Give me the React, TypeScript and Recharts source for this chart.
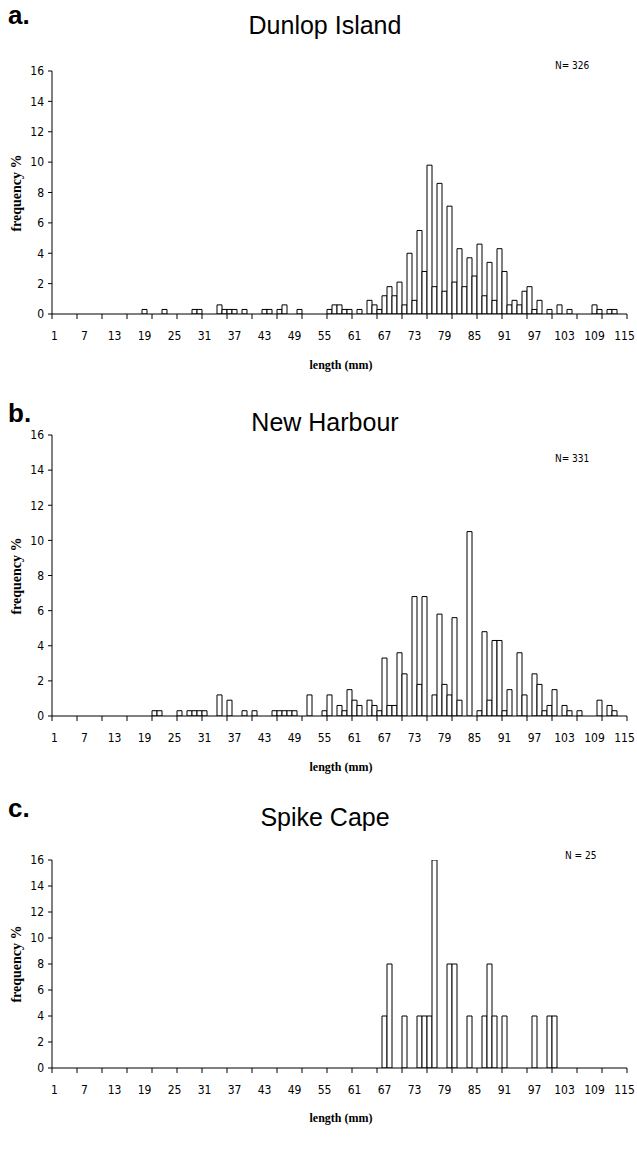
import React from 'react';
import { BarChart, Bar, XAxis, YAxis } from 'recharts';

// ---------- DATA ----------
const yTicks = [0, 2, 4, 6, 8, 10, 12, 14, 16];
const xTickLabels = [1, 7, 13, 19, 25, 31, 37, 43, 49, 55, 61, 67, 73, 79, 85, 91, 97, 103, 109, 115];
const minLength = 1;
const maxLength = 115;

// Dunlop Island (N = 326): lengths with non-zero frequency and their frequency %
const dunlopLengths = [19, 23, 29, 30, 34, 35, 36, 37, 39, 43, 44, 46, 47, 50, 56, 57, 58, 59, 60, 62, 64, 65, 66, 67, 68, 69, 70, 71, 72, 73, 74, 75, 76, 77, 78, 79, 80, 81, 82, 83, 84, 85, 86, 87, 88, 89, 90, 91, 92, 93, 94, 95, 96, 97, 98, 100, 102, 104, 109, 110, 112, 113];
const dunlopFreq = [0.3, 0.3, 0.3, 0.3, 0.6, 0.3, 0.3, 0.3, 0.3, 0.3, 0.3, 0.3, 0.6, 0.3, 0.3, 0.6, 0.6, 0.3, 0.3, 0.3, 0.9, 0.6, 0.3, 1.2, 1.8, 1.2, 2.1, 0.6, 4.0, 0.9, 5.5, 2.8, 9.8, 1.8, 8.6, 1.5, 7.1, 2.1, 4.3, 1.8, 3.7, 2.5, 4.6, 1.2, 3.4, 0.9, 4.3, 2.8, 0.6, 0.9, 0.6, 1.5, 1.8, 0.3, 0.9, 0.3, 0.6, 0.3, 0.6, 0.3, 0.3, 0.3];

// New Harbour (N = 331)
const harbourLengths = [21, 22, 26, 28, 29, 30, 31, 34, 36, 39, 41, 45, 46, 47, 48, 49, 52, 55, 56, 58, 59, 60, 61, 62, 64, 65, 66, 67, 68, 69, 70, 71, 73, 74, 75, 77, 78, 79, 80, 81, 82, 84, 86, 87, 88, 89, 90, 91, 92, 94, 95, 97, 98, 99, 100, 101, 103, 104, 106, 110, 112, 113];
const harbourFreq = [0.3, 0.3, 0.3, 0.3, 0.3, 0.3, 0.3, 1.2, 0.9, 0.3, 0.3, 0.3, 0.3, 0.3, 0.3, 0.3, 1.2, 0.3, 1.2, 0.6, 0.3, 1.5, 0.9, 0.6, 0.9, 0.6, 0.3, 3.3, 0.6, 0.6, 3.6, 2.4, 6.8, 1.8, 6.8, 1.2, 5.8, 1.8, 1.2, 5.6, 0.9, 10.5, 0.3, 4.8, 0.9, 4.3, 4.3, 0.3, 1.5, 3.6, 1.2, 2.4, 1.8, 0.3, 0.6, 1.5, 0.6, 0.3, 0.3, 0.9, 0.6, 0.3];

// Spike Cape (N = 25)
const spikeLengths = [67, 68, 71, 74, 75, 76, 77, 80, 81, 84, 87, 88, 89, 91, 97, 100, 101];
const spikeFreq = [4, 8, 4, 4, 4, 4, 16, 8, 8, 4, 4, 8, 4, 4, 4, 4, 4];

function buildTable(lengths: number[], freq: number[]) {
  const rows: { len: number; v: number }[] = [];
  for (let l = minLength; l <= maxLength; l++) {
    const i = lengths.indexOf(l);
    rows.push({ len: l, v: i >= 0 ? freq[i] : 0 });
  }
  return rows;
}

// ---------- STYLE / LAYOUT ----------
const FONT_NARROW = '"Liberation Sans Narrow", "DejaVu Sans Condensed", "Arial Narrow", sans-serif';
const FONT_SANS = '"Liberation Sans", Arial, Helvetica, sans-serif';
const FONT_SERIF = '"Liberation Serif", "Times New Roman", serif';

const CHART_W = 637;
const MARGIN_LEFT = 12;
const YAXIS_W = 40;
const MARGIN_RIGHT = 10;
const MARGIN_TOP = 10;
const XAXIS_H = 34;
const PLOT_W = CHART_W - MARGIN_LEFT - YAXIS_W - MARGIN_RIGHT;
const HALF_CAT = PLOT_W / (maxLength - minLength + 1) / 2;

const XTick = (props: any) => {
  const { x, y, payload } = props;
  const v = Number(payload.value);
  return (
    <g>
      {v % 5 === 0 && <line x1={x + HALF_CAT} x2={x + HALF_CAT} y1={y} y2={y + 5} stroke="#000" />}
      {v === minLength && <line x1={x - HALF_CAT} x2={x - HALF_CAT} y1={y} y2={y + 5} stroke="#000" />}
      {xTickLabels.includes(v) && (
        <text x={x} y={y + 26} textAnchor="middle" fontSize={12} fontFamily={FONT_NARROW} fill="#000">
          {v}
        </text>
      )}
    </g>
  );
};

type PanelCfg = {
  letter: string;
  title: string;
  nLabel: string;
  letterTop: number;
  titleTop: number;
  nLeft: number;
  nTop: number;
  chartTop: number;
  plotH: number;
  xTitleTop: number;
  data: { len: number; v: number }[];
};

const panels: PanelCfg[] = [
  { letter: 'a.', title: 'Dunlop Island', nLabel: 'N= 326', letterTop: 0, titleTop: 11, nLeft: 555, nTop: 60, chartTop: 61, plotH: 243, xTitleTop: 357, data: buildTable(dunlopLengths, dunlopFreq) },
  { letter: 'b.', title: 'New Harbour', nLabel: 'N= 331', letterTop: 398, titleTop: 408, nLeft: 555, nTop: 453, chartTop: 425, plotH: 281, xTitleTop: 759, data: buildTable(harbourLengths, harbourFreq) },
  { letter: 'c.', title: 'Spike Cape', nLabel: 'N = 25', letterTop: 793, titleTop: 803, nLeft: 565, nTop: 850, chartTop: 850, plotH: 208, xTitleTop: 1110, data: buildTable(spikeLengths, spikeFreq) },
];

function Panel({ cfg }: { cfg: PanelCfg }) {
  const chartH = MARGIN_TOP + cfg.plotH + XAXIS_H;
  const plotTop = cfg.chartTop + MARGIN_TOP;
  const yCenter = plotTop + cfg.plotH / 2;
  return (
    <>
      <div style={{ position: 'absolute', left: 8, top: cfg.letterTop, fontFamily: FONT_SANS, fontWeight: 'bold', fontSize: 26, lineHeight: '30px' }}>{cfg.letter}</div>
      <div style={{ position: 'absolute', left: 0, width: 650, top: cfg.titleTop, textAlign: 'center', fontFamily: FONT_SANS, fontSize: 25, lineHeight: '28px' }}>{cfg.title}</div>
      <div style={{ position: 'absolute', left: cfg.nLeft, top: cfg.nTop, fontFamily: FONT_NARROW, fontSize: 10, lineHeight: '12px', whiteSpace: 'pre' }}>{cfg.nLabel}</div>
      <div style={{ position: 'absolute', left: 17 - 60, top: yCenter - 9, width: 120, textAlign: 'center', transform: 'rotate(-90deg)', fontFamily: FONT_SERIF, fontWeight: 'bold', fontSize: 14, lineHeight: '18px' }}>frequency %</div>
      <div style={{ position: 'absolute', left: 341 - 60, width: 120, top: cfg.xTitleTop, textAlign: 'center', fontFamily: FONT_SERIF, fontWeight: 'bold', fontSize: 12, lineHeight: '16px' }}>length (mm)</div>
      <div style={{ position: 'absolute', left: 0, top: cfg.chartTop }}>
        <BarChart width={CHART_W} height={chartH} data={cfg.data} margin={{ top: MARGIN_TOP, right: MARGIN_RIGHT, bottom: 0, left: MARGIN_LEFT }} barCategoryGap={0} barGap={0}>
          <XAxis dataKey="len" interval={0} tick={(p: any) => <XTick {...p} />} tickSize={0} tickMargin={0} tickLine={false} axisLine={{ stroke: '#000' }} height={XAXIS_H} />
          <YAxis domain={[0, 16]} ticks={yTicks} width={YAXIS_W} tickSize={4} tickMargin={4} tickLine={{ stroke: '#000' }} axisLine={{ stroke: '#000' }} tick={{ fill: '#000', fontSize: 12, fontFamily: FONT_NARROW }} allowDataOverflow />
          <Bar dataKey="v" fill="#fff" stroke="#000" strokeWidth={1} isAnimationActive={false} />
        </BarChart>
      </div>
    </>
  );
}

export default function App() {
  return (
    <div style={{ position: 'absolute', left: 0, top: 0, width: 637, height: 1156, background: '#fff', overflow: 'hidden' }}>
      {panels.map((p) => (
        <Panel key={p.letter} cfg={p} />
      ))}
    </div>
  );
}
